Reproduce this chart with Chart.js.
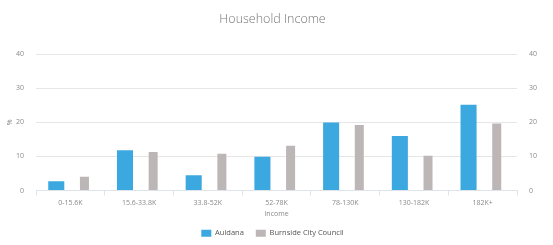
<!DOCTYPE html>
<html>
<head>
<meta charset="utf-8">
<script src="https://cdn.jsdelivr.net/npm/chart.js@4/dist/chart.umd.min.js"></script>
<style>
  html, body { margin: 0; padding: 0; background: #fff; }
  #wrap { width: 553px; height: 245px; }
</style>
</head>
<body>
<div id="wrap"><canvas id="chart" width="553" height="245"></canvas></div>
<script>
// data
const categories = ['0-15.6K', '15.6-33.8K', '33.8-52K', '52-78K', '78-130K', '130-182K', '182K+'];
const auldana = [2.7, 11.8, 4.5, 9.9, 19.9, 16.0, 25.1];
const burnside = [4.0, 11.3, 10.8, 13.1, 19.2, 10.2, 19.6];
const yTicks = [0, 10, 20, 30, 40];

const FONT = "'Open Sans', 'Noto Sans', sans-serif";
const TEXT = '#8a8a8a';

const ctx = document.getElementById('chart').getContext('2d');
new Chart(ctx, {
    type: 'bar',
    data: {
        labels: categories,
        datasets: [
            {
                label: 'Auldana',
                data: auldana,
                backgroundColor: '#3ba8e0',
                barPercentage: 0.57,
                categoryPercentage: 0.82,
                yAxisID: 'y'
            },
            {
                label: 'Burnside City Council',
                data: burnside,
                backgroundColor: '#bdb6b6',
                barPercentage: 0.32,
                categoryPercentage: 0.82,
                yAxisID: 'y'
            }
        ]
    },
    options: {
        responsive: false,
        animation: false,
        layout: { padding: { left: 2, right: 10, top: 4, bottom: -2 } },
        plugins: {
            title: {
                display: true,
                text: 'Household Income',
                color: '#777',
                font: { family: FONT, size: 12.5, weight: '300' },
                padding: { top: 8, bottom: 27 }
            },
            legend: {
                position: 'bottom',
                labels: {
                    color: '#555',
                    boxWidth: 10,
                    boxHeight: 7,
                    padding: 12,
                    font: { family: FONT, size: 7.5 }
                }
            },
            tooltip: { enabled: false }
        },
        scales: {
            x: {
                grid: {
                    offset: true,
                    drawOnChartArea: false,
                    drawTicks: true,
                    tickLength: 5,
                    color: '#dfe3ea'
                },
                border: { color: '#dfe3ea' },
                ticks: { color: TEXT, font: { family: FONT, size: 7, lineHeight: 1 }, padding: 4, maxRotation: 0 },
                title: {
                    display: true,
                    text: 'Income',
                    color: TEXT,
                    font: { family: FONT, size: 7, lineHeight: 1 },
                    padding: { top: 0, bottom: 0 }
                }
            },
            y: {
                position: 'left',
                min: 0,
                max: 40,
                afterBuildTicks: axis => { axis.ticks = yTicks.map(v => ({ value: v })); },
                afterFit: axis => { axis.width = 34; },
                grid: { color: '#e6e6e6', drawTicks: false },
                border: { display: false },
                ticks: { color: TEXT, font: { family: FONT, size: 7 }, padding: 12 },
                title: {
                    display: true,
                    text: '%',
                    color: TEXT,
                    font: { family: FONT, size: 7 },
                    padding: { top: 4, bottom: 0 }
                }
            },
            y2: {
                position: 'right',
                min: 0,
                max: 40,
                afterBuildTicks: axis => { axis.ticks = yTicks.map(v => ({ value: v })); },
                afterFit: axis => { axis.width = 26; },
                grid: { drawOnChartArea: false, drawTicks: false },
                border: { display: false },
                ticks: { color: TEXT, font: { family: FONT, size: 7 }, padding: 12 }
            }
        }
    }
});
</script>
</body>
</html>
